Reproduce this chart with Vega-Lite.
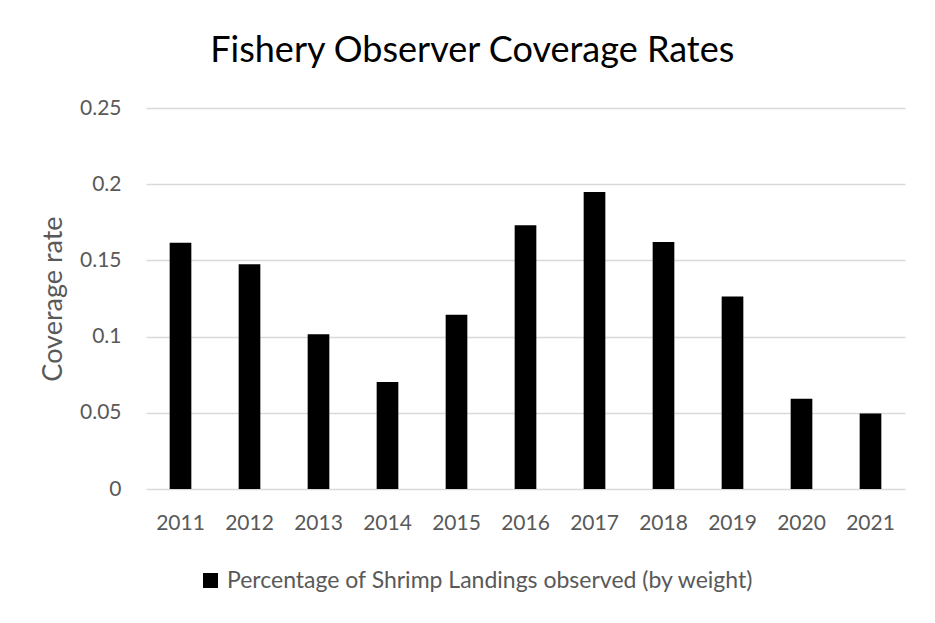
{
  "$schema": "https://vega.github.io/schema/vega-lite/v6.json",
  "width": 759,
  "height": 381,
  "autosize": {"type": "none"},
  "padding": {"left": 146, "top": 108, "right": 30, "bottom": 134},
  "background": "white",
  "title": {
    "text": "Fishery Observer Coverage Rates",
    "font": "Lato",
    "fontSize": 36,
    "fontWeight": "normal",
    "color": "#000000",
    "anchor": "middle",
    "frame": "bounds",
    "offset": 27
  },
  "data": {
    "values": [
      {"year": "2011", "rate": 0.1615, "series": "Percentage of Shrimp Landings observed (by weight)"},
      {"year": "2012", "rate": 0.1475, "series": "Percentage of Shrimp Landings observed (by weight)"},
      {"year": "2013", "rate": 0.1016, "series": "Percentage of Shrimp Landings observed (by weight)"},
      {"year": "2014", "rate": 0.0702, "series": "Percentage of Shrimp Landings observed (by weight)"},
      {"year": "2015", "rate": 0.1143, "series": "Percentage of Shrimp Landings observed (by weight)"},
      {"year": "2016", "rate": 0.1731, "series": "Percentage of Shrimp Landings observed (by weight)"},
      {"year": "2017", "rate": 0.1948, "series": "Percentage of Shrimp Landings observed (by weight)"},
      {"year": "2018", "rate": 0.162, "series": "Percentage of Shrimp Landings observed (by weight)"},
      {"year": "2019", "rate": 0.1263, "series": "Percentage of Shrimp Landings observed (by weight)"},
      {"year": "2020", "rate": 0.0592, "series": "Percentage of Shrimp Landings observed (by weight)"},
      {"year": "2021", "rate": 0.0496, "series": "Percentage of Shrimp Landings observed (by weight)"}
    ]
  },
  "mark": {"type": "bar", "color": "black"},
  "encoding": {
    "x": {
      "field": "year",
      "type": "ordinal",
      "scale": {"paddingInner": 0.686, "paddingOuter": 0.343},
      "axis": {
        "title": null,
        "labelAngle": 0,
        "ticks": false,
        "domain": false,
        "grid": false,
        "labelPadding": 23,
        "labelFont": "Lato",
        "labelFontSize": 21,
        "labelColor": "#595959"
      }
    },
    "y": {
      "field": "rate",
      "type": "quantitative",
      "scale": {"domain": [0, 0.25], "nice": false, "zero": true},
      "axis": {
        "title": "Coverage rate",
        "values": [0, 0.05, 0.1, 0.15, 0.2, 0.25],
        "format": ".2~f",
        "ticks": false,
        "domain": false,
        "grid": true,
        "gridColor": "#d9d9d9",
        "gridWidth": 1.3,
        "labelPadding": 25,
        "labelFont": "Lato",
        "labelFontSize": 21,
        "labelColor": "#595959",
        "titleFont": "Lato",
        "titleFontSize": 27,
        "titleFontWeight": "normal",
        "titleColor": "#595959",
        "titlePadding": 12
      }
    },
    "color": {
      "field": "series",
      "type": "nominal",
      "scale": {"range": ["black"]},
      "legend": {
        "title": null,
        "orient": "none",
        "legendX": 53,
        "legendY": 461,
        "direction": "horizontal",
        "symbolType": "square",
        "symbolSize": 225,
        "symbolStrokeWidth": 0,
        "labelFont": "Lato",
        "labelFontSize": 23,
        "labelLimit": 800,
        "labelColor": "#595959",
        "labelOffset": 5,
        "padding": 0
      }
    }
  },
  "config": {"view": {"stroke": null}}
}
